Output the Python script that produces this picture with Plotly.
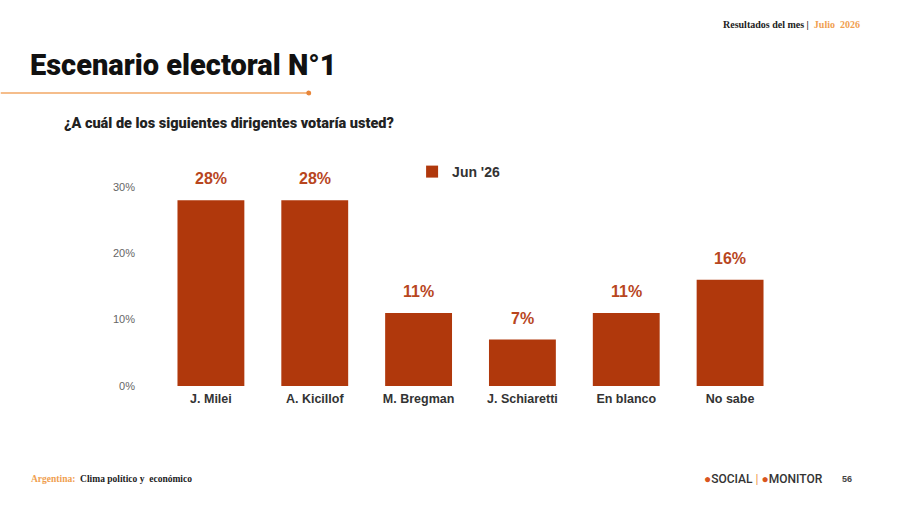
import plotly.graph_objects as go

categories = ["J. Milei", "A. Kicillof", "M. Bregman", "J. Schiaretti", "En blanco", "No sabe"]
values = [28, 28, 11, 7, 11, 16]
series_name = "Jun '26"
tick_vals = [0, 10, 20, 30]
tick_text = ["0%", "10%", "20%", "30%"]

W, H = 900, 505
L, R, T, B = 158.5, 117.5, 167, 119
pw, ph = W - L - R, H - T - B

def px(x):
    return (x - L) / pw

def py(y):
    return (H - B - y) / ph

BAR = "#B0380C"
TXT = "#B8461E"

fig = go.Figure()
fig.add_trace(go.Bar(
    x=categories, y=values, name=series_name,
    marker=dict(color=BAR, line=dict(width=0)),
    showlegend=True,
))

annotations = []
for c, v in zip(categories, values):
    annotations.append(dict(
        x=c, y=v, xref="x", yref="y", text=f"{v}%", showarrow=False,
        yanchor="bottom", yshift=11,
        font=dict(family="Liberation Sans, Arial", size=16, color=TXT, weight="bold"),
    ))

annotations += [
    dict(x=px(27), y=py(65), xref="paper", yref="paper", xanchor="left", yanchor="middle",
         text="Escenario electoral N°1", showarrow=False,
         font=dict(family="Roboto", size=29, color="#111111", weight=900)),
    dict(x=px(61), y=py(123), xref="paper", yref="paper", xanchor="left", yanchor="middle",
         text="¿A cuál de los siguientes dirigentes votaría usted?", showarrow=False,
         font=dict(family="Roboto", size=14.5, color="#222222", weight=900)),
    dict(x=px(863), y=py(24), xref="paper", yref="paper", xanchor="right", yanchor="middle",
         text="<b>Resultados del mes |  <span style='color:#F0A050'>Julio  2026</span></b>", showarrow=False,
         font=dict(family="Liberation Serif, DejaVu Serif", size=10, color="#222222")),
    dict(x=px(28), y=py(479), xref="paper", yref="paper", xanchor="left", yanchor="middle",
         text="<b><span style='color:#F0A050'>Argentina:</span>  Clima político y  económico</b>", showarrow=False,
         font=dict(family="Liberation Serif, DejaVu Serif", size=9.5, color="#222222")),
    dict(x=px(702), y=py(479), xref="paper", yref="paper", xanchor="left", yanchor="middle",
         text="<span style='color:#D9561E'>●</span>SOCIAL <span style='color:#F0A050'>|</span> <span style='color:#D9561E'>●</span>MONITOR", showarrow=False,
         font=dict(family="Roboto", size=12, color="#333333", weight=500)),
    dict(x=px(855), y=py(479), xref="paper", yref="paper", xanchor="right", yanchor="middle",
         text="<b>56</b>", showarrow=False,
         font=dict(family="Liberation Sans, Arial", size=9, color="#444444")),
]

shapes = [
    dict(type="line", xref="paper", yref="paper", x0=px(0), x1=px(308), y0=py(93), y1=py(93),
         line=dict(color="#F2A765", width=1.5)),
    dict(type="circle", xref="paper", yref="paper", x0=px(306), x1=px(311), y0=py(95.5), y1=py(90.5),
         fillcolor="#E8863A", line=dict(width=0)),
]

fig.update_layout(
    width=W, height=H,
    margin=dict(l=L, r=R, t=T, b=B, pad=0),
    paper_bgcolor="white", plot_bgcolor="white",
    bargap=0.356,
    annotations=annotations,
    shapes=shapes,
    legend=dict(orientation="h", x=px(412), y=py(172), xanchor="left", yanchor="middle",
                font=dict(family="Liberation Sans, Arial", size=14, color="#333333", weight="bold"),
                bgcolor="rgba(0,0,0,0)", itemwidth=30),
    xaxis=dict(showgrid=False, showline=False, zeroline=False, ticks="", ticklabelstandoff=3,
               tickfont=dict(family="Liberation Sans, Arial", size=12.5, color="#333333", weight="bold")),
    yaxis=dict(range=[0, 33], tickvals=tick_vals, ticktext=tick_text, showgrid=False, zeroline=False,
               showline=False, ticks="", ticklabelstandoff=23, color="#666666",
               tickfont=dict(family="Liberation Sans, Arial", size=11, color="#666666")),
)

fig.write_html("out.html")
